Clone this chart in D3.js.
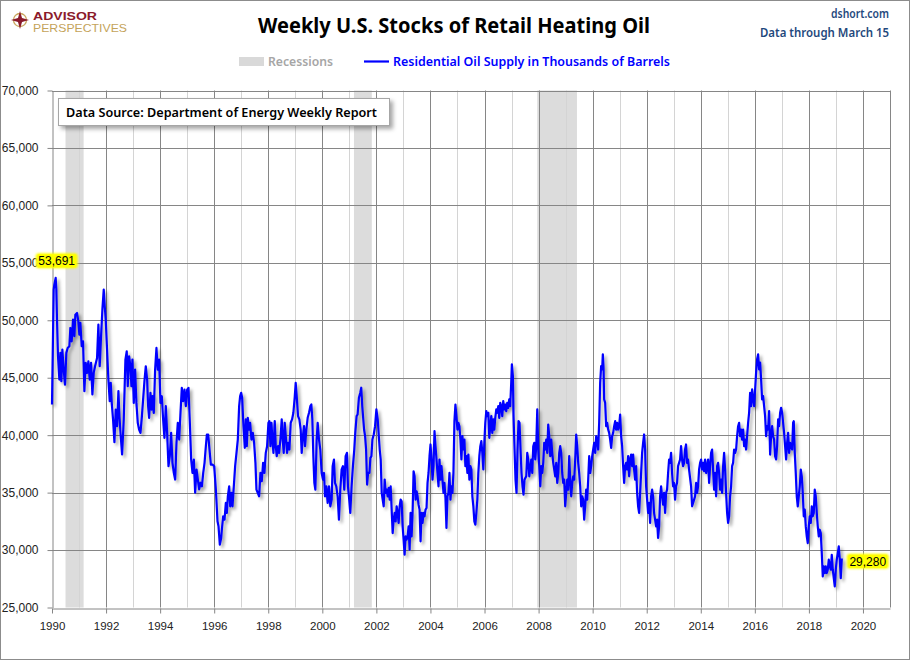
<!DOCTYPE html>
<html>
<head>
<meta charset="utf-8">
<script src="https://d3js.org/d3.v7.min.js"></script>
<style>
  body { margin: 0; background: #fff; }
  svg { display: block; font-family: "Noto Sans", "Liberation Sans", sans-serif; }
  .axis text { font-family: "Liberation Sans", Arial, sans-serif; font-size: 12px; fill: #222; }
  .axis path, .axis line { stroke: #868686; }
</style>
</head>
<body>
<script>
// weekly residential heating oil stocks, thousand barrels: [year, value]
const weekly = [
[1990.000,42670],[1990.062,52670],[1990.086,53100],[1990.136,53691],[1990.160,52670],[1990.185,50060],
[1990.222,46870],[1990.272,44840],[1990.309,47160],[1990.346,44700],[1990.383,47450],[1990.432,45710],
[1990.481,44400],[1990.531,47160],[1990.580,47590],[1990.642,47740],[1990.679,49330],[1990.728,48170],
[1990.778,50060],[1990.827,48610],[1990.864,50490],[1990.926,50640],[1990.975,49910],[1991.012,48750],
[1991.049,49770],[1991.099,47740],[1991.148,48170],[1991.198,43830],[1991.247,46290],[1991.296,45420],
[1991.346,46430],[1991.395,44840],[1991.444,46290],[1991.494,43540],[1991.543,45420],[1991.593,46000],
[1991.667,46720],[1991.716,49620],[1991.765,46000],[1991.815,48610],[1991.864,50930],[1991.914,52670],
[1991.951,51220],[1991.988,50060],[1992.037,47450],[1992.086,44840],[1992.136,42960],[1992.173,44550],
[1992.210,42810],[1992.259,41360],[1992.309,39390],[1992.358,42230],[1992.407,40780],[1992.457,43830],
[1992.494,41650],[1992.543,39910],[1992.593,38320],[1992.654,41360],[1992.716,46580],[1992.765,47300],
[1992.802,44260],[1992.852,46870],[1992.901,46000],[1992.938,44260],[1992.975,46580],[1993.025,42810],
[1993.074,45710],[1993.123,42810],[1993.173,41070],[1993.222,40490],[1993.272,40200],[1993.321,41510],
[1993.370,43100],[1993.420,44700],[1993.469,46000],[1993.519,44840],[1993.556,42520],[1993.593,41510],
[1993.642,43680],[1993.679,42230],[1993.716,43390],[1993.765,41940],[1993.815,45710],[1993.864,47590],
[1993.914,45710],[1993.963,46580],[1994.012,42810],[1994.062,43390],[1994.111,41360],[1994.160,39770],
[1994.210,42520],[1994.259,40200],[1994.309,37300],[1994.358,38170],[1994.407,40200],[1994.457,37590],
[1994.506,36720],[1994.556,36140],[1994.605,39330],[1994.654,41070],[1994.704,39620],[1994.753,41940],
[1994.802,44120],[1994.852,42960],[1994.901,43970],[1994.951,42520],[1995.000,43970],[1995.049,44120],
[1995.099,41070],[1995.148,37880],[1995.198,36720],[1995.247,37880],[1995.296,34990],[1995.346,37010],
[1995.395,36140],[1995.444,35280],[1995.494,35860],[1995.545,35550],[1995.594,36720],[1995.643,37590],
[1995.692,39040],[1995.729,40060],[1995.778,40060],[1995.815,39040],[1995.877,37440],[1995.938,37440],
[1996.000,37300],[1996.062,35260],[1996.123,32500],[1996.160,32060],[1996.209,30470],[1996.258,31050],
[1996.283,31770],[1996.332,32940],[1996.382,32650],[1996.431,34100],[1996.468,33230],[1996.505,34680],
[1996.554,35550],[1996.591,33810],[1996.640,34970],[1996.677,33810],[1996.726,35550],[1996.775,37300],
[1996.825,38460],[1996.874,39620],[1996.923,42530],[1996.960,43400],[1996.997,43690],[1997.034,43260],
[1997.083,40780],[1997.132,38900],[1997.169,41370],[1997.206,39040],[1997.243,41510],[1997.292,40490],
[1997.329,41080],[1997.378,39620],[1997.428,40200],[1997.477,39330],[1997.526,37590],[1997.563,35260],
[1997.612,34970],[1997.662,34680],[1997.711,36720],[1997.760,35990],[1997.809,37590],[1997.858,36720],
[1997.908,38460],[1997.957,39040],[1998.006,41080],[1998.043,41220],[1998.080,39040],[1998.117,41080],
[1998.154,39620],[1998.191,38460],[1998.240,41220],[1998.277,39040],[1998.314,38170],[1998.363,39040],
[1998.400,38460],[1998.449,39620],[1998.498,41370],[1998.535,39620],[1998.572,38460],[1998.609,41080],
[1998.658,39620],[1998.695,38460],[1998.732,39330],[1998.782,38750],[1998.831,41080],[1998.880,41370],
[1998.929,41950],[1998.978,43260],[1999.015,44560],[1999.052,43400],[1999.102,41660],[1999.151,41370],
[1999.200,40490],[1999.237,38460],[1999.274,39770],[1999.323,40780],[1999.360,39040],[1999.409,40490],
[1999.458,41510],[1999.508,41950],[1999.557,42530],[1999.594,42670],[1999.631,41370],[1999.668,38170],
[1999.705,35840],[1999.742,35260],[1999.791,39620],[1999.828,41080],[1999.877,39620],[1999.926,38750],
[1999.975,36710],[2000.025,36130],[2000.062,36710],[2000.098,34680],[2000.148,35550],[2000.197,34100],
[2000.246,35550],[2000.295,33810],[2000.345,34390],[2000.382,37300],[2000.431,37880],[2000.468,35840],
[2000.517,35550],[2000.566,34680],[2000.615,32650],[2000.665,35260],[2000.714,37010],[2000.763,37300],
[2000.812,35260],[2000.862,38170],[2000.911,38460],[2000.948,35550],[2000.985,34680],[2001.034,33230],
[2001.083,35550],[2001.132,37300],[2001.182,38750],[2001.218,40200],[2001.268,41660],[2001.305,41800],
[2001.354,43260],[2001.403,43690],[2001.440,44130],[2001.477,42530],[2001.545,40490],[2001.582,39910],
[2001.619,38750],[2001.656,35700],[2001.693,36710],[2001.742,36710],[2001.779,38020],[2001.816,38170],
[2001.853,39620],[2001.902,40060],[2001.951,40780],[2002.000,42240],[2002.049,41370],[2002.086,40060],
[2002.123,38750],[2002.160,37880],[2002.197,34970],[2002.233,34390],[2002.270,33810],[2002.307,36130],
[2002.344,34970],[2002.381,35260],[2002.418,34680],[2002.455,35410],[2002.491,34390],[2002.528,35550],
[2002.565,33520],[2002.602,31480],[2002.639,32650],[2002.676,33230],[2002.713,32500],[2002.749,33810],
[2002.786,33230],[2002.823,32360],[2002.860,33810],[2002.897,34390],[2002.934,34250],[2002.971,32060],
[2003.007,30900],[2003.044,29590],[2003.081,31190],[2003.118,30900],[2003.155,31190],[2003.192,32060],
[2003.229,30030],[2003.265,33230],[2003.302,31190],[2003.339,33230],[2003.376,36860],[2003.413,36420],
[2003.450,34390],[2003.487,35120],[2003.523,34680],[2003.560,33950],[2003.597,33520],[2003.634,30760],
[2003.671,33230],[2003.708,32360],[2003.744,33230],[2003.781,32940],[2003.818,33520],[2003.855,33660],
[2003.892,35840],[2003.929,36710],[2003.966,38170],[2004.002,39190],[2004.039,37880],[2004.076,36130],
[2004.113,37300],[2004.150,40350],[2004.187,39040],[2004.224,37880],[2004.260,36710],[2004.297,35550],
[2004.334,37880],[2004.371,36130],[2004.408,37300],[2004.445,36130],[2004.482,34970],[2004.518,35840],
[2004.555,34540],[2004.592,31920],[2004.629,34680],[2004.666,34970],[2004.703,36710],[2004.740,34390],
[2004.776,35550],[2004.813,34970],[2004.850,36710],[2004.887,41220],[2004.924,42670],[2004.961,41660],
[2004.998,40490],[2005.034,41080],[2005.071,40780],[2005.108,39620],[2005.145,37880],[2005.182,39910],
[2005.219,38750],[2005.256,39620],[2005.292,37300],[2005.329,38170],[2005.366,36710],[2005.403,38310],
[2005.440,36130],[2005.477,37300],[2005.514,37010],[2005.550,34680],[2005.587,33810],[2005.624,32500],
[2005.661,32210],[2005.698,33230],[2005.735,34390],[2005.771,36710],[2005.808,38170],[2005.845,39040],
[2005.882,39480],[2005.919,38460],[2005.956,37010],[2005.993,39330],[2006.029,41080],[2006.066,42100],
[2006.103,41660],[2006.140,41950],[2006.177,39770],[2006.214,40780],[2006.251,41660],[2006.287,40200],
[2006.324,41370],[2006.361,40490],[2006.398,41510],[2006.435,42240],[2006.472,41950],[2006.509,42530],
[2006.545,41510],[2006.582,42820],[2006.619,42530],[2006.656,41660],[2006.693,42970],[2006.730,42240],
[2006.767,42670],[2006.803,42100],[2006.840,42820],[2006.877,42380],[2006.914,43110],[2006.951,42530],
[2006.988,44560],[2007.012,46160],[2007.049,45150],[2007.074,41660],[2007.111,38750],[2007.147,36130],
[2007.184,34970],[2007.221,38750],[2007.258,41220],[2007.295,41080],[2007.332,38750],[2007.369,36710],
[2007.405,35550],[2007.442,34830],[2007.479,36130],[2007.544,36420],[2007.581,38460],[2007.618,37880],
[2007.655,36420],[2007.692,37150],[2007.729,37880],[2007.766,36710],[2007.803,39040],[2007.840,39330],
[2007.877,37880],[2007.914,39040],[2007.951,42240],[2007.988,38750],[2008.025,37300],[2008.062,35550],
[2008.099,37300],[2008.135,36710],[2008.172,37590],[2008.209,39330],[2008.246,38750],[2008.283,39620],
[2008.320,38460],[2008.357,40930],[2008.394,39910],[2008.431,38170],[2008.468,39620],[2008.505,38460],
[2008.542,37590],[2008.579,37010],[2008.616,36420],[2008.653,37590],[2008.690,35840],[2008.727,36710],
[2008.764,38460],[2008.800,39040],[2008.837,38460],[2008.874,36710],[2008.911,35840],[2008.948,36130],
[2008.985,33810],[2009.022,34970],[2009.059,36130],[2009.096,35260],[2009.133,38170],[2009.170,36130],
[2009.207,34680],[2009.244,35840],[2009.281,36420],[2009.318,36130],[2009.355,37880],[2009.392,40060],
[2009.429,39040],[2009.466,37590],[2009.502,36710],[2009.539,35550],[2009.576,33810],[2009.613,34680],
[2009.650,34390],[2009.687,32650],[2009.724,33810],[2009.761,35260],[2009.798,34390],[2009.835,36130],
[2009.872,38170],[2009.909,36710],[2009.946,37300],[2009.983,38170],[2010.020,38750],[2010.057,39330],
[2010.094,38460],[2010.131,39910],[2010.167,39620],[2010.204,38750],[2010.241,41080],[2010.278,44560],
[2010.315,46020],[2010.352,45730],[2010.377,47030],[2010.401,46020],[2010.426,43110],[2010.463,42820],
[2010.500,40780],[2010.537,41080],[2010.574,40490],[2010.611,40200],[2010.648,39620],[2010.685,38900],
[2010.722,39910],[2010.759,40200],[2010.796,40780],[2010.833,41220],[2010.869,40490],[2010.906,41080],
[2010.943,40490],[2010.980,40780],[2011.017,41800],[2011.054,39910],[2011.091,39040],[2011.128,37300],
[2011.165,35840],[2011.202,37300],[2011.239,37590],[2011.276,37010],[2011.313,38170],[2011.350,36420],
[2011.387,37880],[2011.424,38310],[2011.461,37300],[2011.498,38310],[2011.534,37010],[2011.571,36130],
[2011.608,37300],[2011.645,34970],[2011.682,33810],[2011.719,33230],[2011.756,34970],[2011.793,36710],
[2011.830,38460],[2011.867,39330],[2011.904,40060],[2011.941,38750],[2011.978,35550],[2012.015,34390],
[2012.052,33230],[2012.089,34100],[2012.126,32360],[2012.163,34680],[2012.200,35260],[2012.236,34680],
[2012.273,33230],[2012.310,32650],[2012.347,32060],[2012.384,32650],[2012.421,31050],[2012.458,32060],
[2012.495,34680],[2012.532,35550],[2012.569,34680],[2012.606,33950],[2012.643,34970],[2012.680,33230],
[2012.717,34970],[2012.754,35260],[2012.791,36710],[2012.828,37880],[2012.865,37590],[2012.901,38460],
[2012.938,36710],[2012.975,35550],[2013.012,35840],[2013.049,34390],[2013.086,35550],[2013.123,35840],
[2013.160,37300],[2013.197,37590],[2013.234,37880],[2013.271,39040],[2013.308,37880],[2013.345,37300],
[2013.382,37590],[2013.419,38750],[2013.456,39190],[2013.493,37590],[2013.530,37880],[2013.567,37010],
[2013.642,35550],[2013.679,33810],[2013.716,34100],[2013.753,34390],[2013.790,34680],[2013.827,35840],
[2013.864,34970],[2013.901,35550],[2013.938,37010],[2013.975,37590],[2014.012,37880],[2014.049,37010],
[2014.086,37590],[2014.123,36860],[2014.160,37880],[2014.197,36710],[2014.234,37300],[2014.271,37880],
[2014.308,35840],[2014.345,37300],[2014.382,38460],[2014.419,38750],[2014.456,37010],[2014.493,35260],
[2014.530,36710],[2014.567,34680],[2014.604,37300],[2014.641,37590],[2014.678,36710],[2014.715,35260],
[2014.752,36130],[2014.789,34970],[2014.826,37300],[2014.863,38460],[2014.900,37010],[2014.937,34970],
[2014.974,33230],[2015.011,32360],[2015.048,32940],[2015.085,34680],[2015.122,35550],[2015.159,37300],
[2015.196,37590],[2015.233,38750],[2015.270,38460],[2015.307,38750],[2015.344,39910],[2015.381,40780],
[2015.418,41080],[2015.455,39910],[2015.492,40490],[2015.529,39620],[2015.566,40490],[2015.603,39040],
[2015.640,39620],[2015.677,38750],[2015.714,39910],[2015.751,41080],[2015.788,41950],[2015.825,43690],
[2015.862,42530],[2015.899,43980],[2015.936,43110],[2015.973,42530],[2016.010,43980],[2016.047,45440],
[2016.084,46600],[2016.121,47030],[2016.158,45730],[2016.195,46310],[2016.232,44850],[2016.269,43110],
[2016.306,43400],[2016.343,42530],[2016.380,41660],[2016.417,39910],[2016.454,40780],[2016.491,40490],
[2016.528,42100],[2016.565,38310],[2016.602,39910],[2016.639,40780],[2016.676,39910],[2016.713,39620],
[2016.750,38170],[2016.787,37880],[2016.824,39040],[2016.861,41370],[2016.898,40780],[2016.935,41950],
[2016.972,42380],[2017.009,41950],[2017.046,41080],[2017.083,40200],[2017.120,39040],[2017.157,37880],
[2017.194,39330],[2017.231,40200],[2017.268,38460],[2017.305,39330],[2017.342,39040],[2017.379,38750],
[2017.416,41080],[2017.440,41220],[2017.477,38460],[2017.514,36710],[2017.551,34680],[2017.588,33810],
[2017.625,34680],[2017.662,35550],[2017.699,37010],[2017.736,36420],[2017.773,34970],[2017.810,32940],
[2017.847,33520],[2017.884,32060],[2017.921,31190],[2017.958,30610],[2017.995,32060],[2018.032,32940],
[2018.069,32360],[2018.106,33810],[2018.143,32940],[2018.180,33230],[2018.217,35260],[2018.254,34680],
[2018.291,33230],[2018.328,32060],[2018.365,31190],[2018.402,31770],[2018.439,31480],[2018.476,29740],
[2018.513,27710],[2018.550,28580],[2018.587,28000],[2018.624,28580],[2018.661,28000],[2018.698,28290],
[2018.735,29160],[2018.772,28580],[2018.809,28290],[2018.846,29590],[2018.883,28290],[2018.920,27560],
[2018.957,26840],[2018.994,28290],[2019.031,29160],[2019.068,29740],[2019.105,30320],[2019.142,29160],
[2019.179,27560],[2019.216,29280]
];

const recessions = [[1990.5, 1991.17], [2001.17, 2001.83], [2007.95, 2009.42]];
const yTicks = [25000, 30000, 35000, 40000, 45000, 50000, 55000, 60000, 65000, 70000];
const xTicks = [1990, 1992, 1994, 1996, 1998, 2000, 2002, 2004, 2006, 2008, 2010, 2012, 2014, 2016, 2018, 2020];
const gridYears = d3.range(1991, 2021);

const W = 910, H = 660;
const plotL = 52, plotR = 890, plotT = 90.5, plotB = 607.5;

const svg = d3.select('body').append('svg').attr('width', W).attr('height', H);

const defs = svg.append('defs');
defs.append('filter').attr('id', 'lineShadow').attr('x', '-5%').attr('y', '-5%').attr('width', '110%').attr('height', '115%')
  .append('feDropShadow').attr('dx', 2.5).attr('dy', 2.5).attr('stdDeviation', 1.4)
  .attr('flood-color', '#000').attr('flood-opacity', 0.35);
defs.append('filter').attr('id', 'boxShadow').attr('x', '-10%').attr('y', '-30%').attr('width', '120%').attr('height', '170%')
  .append('feDropShadow').attr('dx', 3).attr('dy', 3).attr('stdDeviation', 2)
  .attr('flood-color', '#000').attr('flood-opacity', 0.35);
const glow = defs.append('filter').attr('id', 'glow').attr('x', '-20%').attr('y', '-40%').attr('width', '140%').attr('height', '180%');
glow.append('feGaussianBlur').attr('stdDeviation', 1.2);

// frame
svg.append('rect').attr('x', 0.5).attr('y', 0.5).attr('width', W - 1).attr('height', H - 1)
  .attr('fill', '#fff').attr('stroke', '#8c8c8c');

const x = d3.scaleLinear().domain([1990, 2021]).range([plotL, plotR]);
const y = d3.scaleLinear().domain([25000, 70000]).range([plotB, plotT]);

// recession bands
svg.append('g').selectAll('rect').data(recessions).join('rect')
  .attr('x', d => x(d[0])).attr('width', d => x(d[1]) - x(d[0]))
  .attr('y', plotT).attr('height', plotB - plotT)
  .attr('fill', '#dcdcdc');

// grid
const grid = svg.append('g');
grid.selectAll('line.v').data(gridYears).join('line').attr('class', 'v')
  .attr('x1', d => Math.round(x(d)) + 0.5).attr('x2', d => Math.round(x(d)) + 0.5)
  .attr('y1', plotT).attr('y2', plotB)
  .attr('stroke', d => d % 2 === 0 ? '#868686' : '#d4d4d4');
grid.selectAll('line.h').data(yTicks.slice(1)).join('line').attr('class', 'h')
  .attr('x1', plotL).attr('x2', plotR)
  .attr('y1', d => Math.round(y(d)) + 0.5).attr('y2', d => Math.round(y(d)) + 0.5)
  .attr('stroke', '#868686');
grid.append('line').attr('x1', Math.round(plotR) + 0.5).attr('x2', Math.round(plotR) + 0.5)
  .attr('y1', plotT).attr('y2', plotB).attr('stroke', '#868686');

// axes
svg.append('g').attr('class', 'axis').attr('transform', `translate(${Math.round(plotL) + 0.5},0)`)
  .call(d3.axisLeft(y).tickValues(yTicks).tickFormat(d3.format(',')).tickSize(5).tickSizeOuter(0).tickPadding(9));
svg.append('g').attr('class', 'axis').attr('transform', `translate(0,${Math.round(plotB) + 0.5})`)
  .call(d3.axisBottom(x).tickValues(xTicks).tickFormat(d3.format('d')).tickSize(5).tickSizeOuter(0).tickPadding(8))
  .selectAll('text').style('font-size', '11.5px');

// data line
const line = d3.line().x(d => x(d[0])).y(d => y(d[1]));
svg.append('path').datum(weekly)
  .attr('d', line).attr('fill', 'none')
  .attr('stroke', '#0000ff').attr('stroke-width', 2.2).attr('stroke-linejoin', 'round')
  .attr('filter', 'url(#lineShadow)');

// source box
svg.append('rect').attr('x', 58.5).attr('y', 98.5).attr('width', 331).attr('height', 27)
  .attr('fill', '#fff').attr('stroke', '#a6a6a6').attr('filter', 'url(#boxShadow)');
svg.append('text').attr('x', 66).attr('y', 117).attr('font-size', 13).attr('fill', '#000').attr('font-weight', 600)
  .attr('textLength', 311).attr('lengthAdjust', 'spacingAndGlyphs')
  .text('Data Source: Department of Energy Weekly Report');

// value callouts
function callout(cx, cy, label) {
  const g = svg.append('g');
  g.append('rect').attr('x', cx - 21).attr('y', cy - 7.5).attr('width', 42).attr('height', 15)
    .attr('rx', 3).attr('fill', '#ffff00').attr('filter', 'url(#glow)');
  g.append('rect').attr('x', cx - 19).attr('y', cy - 6.5).attr('width', 38).attr('height', 13).attr('fill', '#ffff00');
  g.append('text').attr('x', cx).attr('y', cy + 4.3).attr('text-anchor', 'middle')
    .attr('font-family', 'Liberation Sans, Arial, sans-serif').attr('font-size', 12).attr('fill', '#000')
    .text(label);
}
const peak = weekly.reduce((a, b) => b[1] > a[1] ? b : a);
const last = weekly[weekly.length - 1];
callout(x(peak[0]) + 1, y(peak[1]) - 17, d3.format(',')(peak[1]));
callout(x(last[0]) + 26, y(last[1]) + 3, d3.format(',')(last[1]));

// title and headers
svg.append('text').attr('x', 454).attr('y', 33).attr('text-anchor', 'middle')
  .attr('font-size', 22).attr('font-weight', 'bold').attr('fill', '#000')
  .attr('textLength', 392).attr('lengthAdjust', 'spacingAndGlyphs')
  .text('Weekly U.S. Stocks of Retail Heating Oil');
svg.append('text').attr('x', 889).attr('y', 18).attr('text-anchor', 'end')
  .attr('font-size', 13).attr('fill', '#1f497d').attr('font-weight', 600)
  .attr('textLength', 58).attr('lengthAdjust', 'spacingAndGlyphs').text('dshort.com');
svg.append('text').attr('x', 889).attr('y', 37).attr('text-anchor', 'end')
  .attr('font-size', 13).attr('fill', '#1f497d').attr('font-weight', 600)
  .attr('textLength', 129).attr('lengthAdjust', 'spacingAndGlyphs').text('Data through March 15');

// legend
const lg = svg.append('g');
lg.append('rect').attr('x', 239).attr('y', 57).attr('width', 25).attr('height', 9).attr('fill', '#d9d9d9');
lg.append('text').attr('x', 268).attr('y', 66).attr('font-size', 13).attr('fill', '#a6a6a6').attr('font-weight', 600)
  .attr('textLength', 65).attr('lengthAdjust', 'spacingAndGlyphs').text('Recessions');
lg.append('line').attr('x1', 364).attr('x2', 389).attr('y1', 61.5).attr('y2', 61.5)
  .attr('stroke', '#0000ff').attr('stroke-width', 2.2);
lg.append('text').attr('x', 393).attr('y', 66).attr('font-size', 13).attr('fill', '#0000ff').attr('font-weight', 600)
  .attr('textLength', 277).attr('lengthAdjust', 'spacingAndGlyphs').text('Residential Oil Supply in Thousands of Barrels');

// logo
const logo = svg.append('g').attr('transform', 'translate(20,20)');
logo.append('circle').attr('r', 6.5).attr('fill', 'none').attr('stroke', '#c9a55c').attr('stroke-width', 1.3);
logo.append('path').attr('d', 'M0,-9 L2,-2 L9,0 L2,2 L0,9 L-2,2 L-9,0 L-2,-2 Z').attr('fill', '#8b1a2b');
logo.append('circle').attr('r', 2.5).attr('fill', '#8b1a2b');
svg.append('text').attr('x', 33).attr('y', 19.5).attr('font-family', 'Liberation Sans, Arial, sans-serif')
  .attr('font-size', 11).attr('font-weight', 'bold')
  .attr('fill', '#8b1a2b').attr('textLength', 64).attr('lengthAdjust', 'spacingAndGlyphs').text('ADVISOR');
svg.append('text').attr('x', 33).attr('y', 32).attr('font-family', 'Liberation Sans, Arial, sans-serif')
  .attr('font-size', 11)
  .attr('fill', '#c4a35a').attr('textLength', 94).attr('lengthAdjust', 'spacingAndGlyphs').text('PERSPECTIVES');
</script>
</body>
</html>
